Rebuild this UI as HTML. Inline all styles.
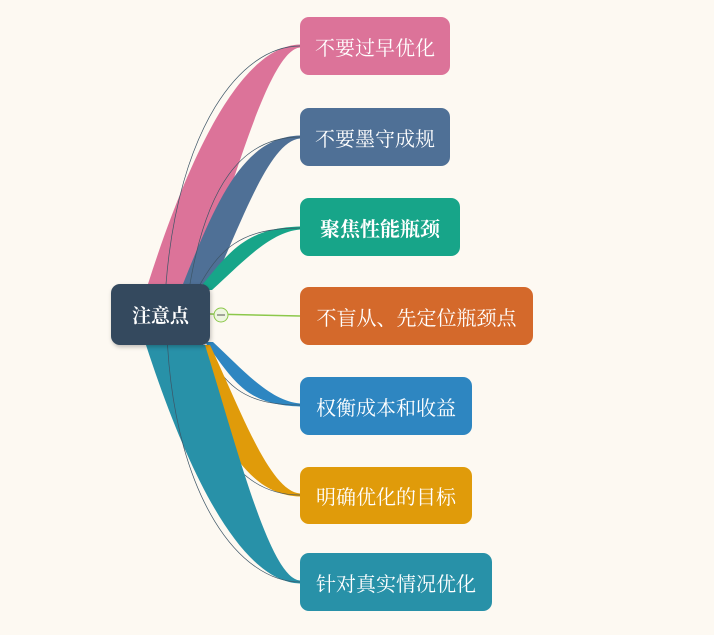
<!DOCTYPE html>
<html><head><meta charset="utf-8"><style>
html,body{margin:0;padding:0;background:#fdf9f2;}
#wrap{position:relative;width:714px;height:635px;overflow:hidden;background:#fdf9f2;font-family:"Liberation Sans","Noto Sans CJK SC",sans-serif;}
svg{position:absolute;left:0;top:0;}
.node{position:absolute;border-radius:9px;color:#fff;font-size:20px;display:flex;align-items:center;justify-content:center;box-sizing:border-box;font-family:"Liberation Serif","Noto Serif CJK SC",serif;}
</style></head><body>
<div id="wrap">
<svg id="lines" width="714" height="635"></svg>
<div class="node" style="left:111px;top:284px;width:99px;height:61px;background:#34495e;font-weight:bold;font-size:19px;box-shadow:1px 2px 4px rgba(0,0,0,.25)">注意点</div>
<div class="node" style="left:300px;top:17px;width:150px;height:58px;background:#dc7399">不要过早优化</div>
<div class="node" style="left:300px;top:108px;width:150px;height:58px;background:#4f7096">不要墨守成规</div>
<div class="node" style="left:300px;top:198px;width:160px;height:58px;background:#17a589;font-weight:bold">聚焦性能瓶颈</div>
<div class="node" style="left:300px;top:287px;width:233px;height:58px;background:#d4692b">不盲从、先定位瓶颈点</div>
<div class="node" style="left:300px;top:377px;width:172px;height:58px;background:#2e86c1">权衡成本和收益</div>
<div class="node" style="left:300px;top:467px;width:172px;height:57px;background:#e09b0a">明确优化的目标</div>
<div class="node" style="left:300px;top:553px;width:192px;height:58px;background:#2891a8">针对真实情况优化</div>
</div>
<script>
const branches=[
 {c:'#dc7399',xa:148,xb:200,ry:284,ey:46},
 {c:'#4f7096',xa:183,xb:213,ry:284,ey:137},
 {c:'#17a589',xa:198,xb:212,ry:290,ey:228},
 {c:'#2e86c1',xa:205,xb:213,ry:342,ey:405},
 {c:'#e09b0a',xa:182,xb:210,ry:345,ey:495},
 {c:'#2891a8',xa:146,xb:205,ry:345,ey:582}
];
const svg=document.getElementById('lines');
const NS='http://www.w3.org/2000/svg';
branches.forEach((b,i)=>{
 const up=b.ey<b.ry;
 const s=up?1:-1;
 const d=`M${b.xa},${b.ry} C${b.xa+(300-b.xa)*0.3},${b.ry+(b.ey-b.ry)*0.6} 245,${b.ey} 300,${b.ey-1.5*s} L300,${b.ey+1.5*s} C270,${b.ey+4*s} ${b.xb+(300-b.xb)*0.35},${b.ry+(b.ey-b.ry)*0.45} ${b.xb},${b.ry} Z`;
 const p=document.createElementNS(NS,'path');
 p.setAttribute('d',d);p.setAttribute('fill',b.c);
 
 
 svg.appendChild(p);
 const l=document.createElementNS(NS,'path');
 l.setAttribute('d',`M${(b.xa+b.xb)/2-8},${b.ry} C${b.xa+(300-b.xa)*0.2},${b.ry+(b.ey-b.ry)*0.65} 240,${b.ey} 300,${b.ey}`);
 l.setAttribute('fill','none');l.setAttribute('stroke','#3d5566');l.setAttribute('stroke-width','0.7');
 
 
 svg.appendChild(l);
});
const ln=document.createElementNS(NS,'path');
ln.setAttribute('d','M210,314 L300,316');ln.setAttribute('stroke','#8cc84b');ln.setAttribute('stroke-width','1.5');ln.setAttribute('fill','none');


svg.appendChild(ln);
const c=document.createElementNS(NS,'circle');
c.setAttribute('cx','221');c.setAttribute('cy','315');c.setAttribute('r','7');c.setAttribute('fill','#eef5e0');c.setAttribute('stroke','#8cc84b');


svg.appendChild(c);
const m=document.createElementNS(NS,'line');
m.setAttribute('x1','217');m.setAttribute('x2','225');m.setAttribute('y1','315');m.setAttribute('y2','315');m.setAttribute('stroke','#555');


svg.appendChild(m);
</script>
</body></html>
